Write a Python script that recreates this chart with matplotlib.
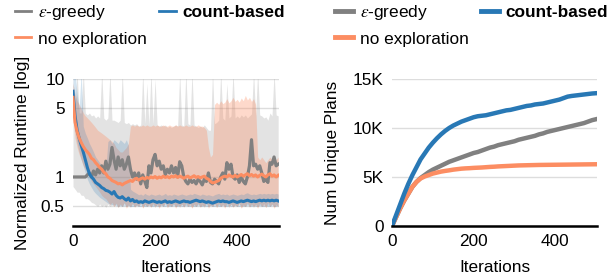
import numpy as np
import matplotlib
matplotlib.use("Agg")
import matplotlib.pyplot as plt
from matplotlib.lines import Line2D

plt.rcParams['font.family'] = ['Liberation Sans', 'DejaVu Sans']
plt.rcParams['mathtext.fontset'] = 'stix'
FS = 12.4

# ---------------- data: left panel (sampled every 5 iterations) ----------------
STEP_L = 5
count_mean = [7.5, 4.2, 3.0, 2.5, 2.1, 1.8, 1.5, 1.25, 1.08, 1.0,
              0.95, 0.88, 0.85, 0.82, 0.78, 0.76, 0.73, 0.72, 0.7, 0.67,
              0.71, 0.65, 0.62, 0.61, 0.63, 0.6, 0.58, 0.61, 0.57, 0.59,
              0.56, 0.57, 0.55, 0.56, 0.55, 0.57, 0.56, 0.55, 0.56, 0.57,
              0.56, 0.55, 0.56, 0.55, 0.56, 0.57, 0.55, 0.56, 0.55, 0.56,
              0.57, 0.56, 0.55, 0.56, 0.57, 0.56, 0.56, 0.55, 0.56, 0.57,
              0.58, 0.57, 0.56, 0.57, 0.56, 0.55, 0.56, 0.55, 0.54, 0.55,
              0.56, 0.57, 0.56, 0.57, 0.56, 0.56, 0.55, 0.56, 0.57, 0.56,
              0.55, 0.56, 0.57, 0.56, 0.57, 0.58, 0.57, 0.56, 0.57, 0.56,
              0.57, 0.58, 0.57, 0.58, 0.57, 0.58, 0.57, 0.58, 0.57, 0.58,
              0.57]
count_lo = [5.0, 3.0, 2.2, 1.8, 1.5, 1.3, 1.1, 0.95, 0.85, 0.78,
            0.72, 0.68, 0.65, 0.62, 0.6, 0.58, 0.56, 0.54, 0.53, 0.52,
            0.52, 0.51, 0.5, 0.51, 0.5, 0.51, 0.5, 0.51, 0.5, 0.5,
            0.5, 0.51, 0.5, 0.5, 0.51, 0.5, 0.5, 0.51, 0.5, 0.5,
            0.51, 0.5, 0.5, 0.51, 0.5, 0.5, 0.51, 0.5, 0.5, 0.51,
            0.5, 0.5, 0.51, 0.5, 0.5, 0.51, 0.5, 0.5, 0.51, 0.5,
            0.5, 0.51, 0.5, 0.5, 0.51, 0.5, 0.5, 0.51, 0.5, 0.5,
            0.51, 0.5, 0.5, 0.51, 0.5, 0.5, 0.51, 0.5, 0.5, 0.51,
            0.5, 0.5, 0.51, 0.5, 0.5, 0.51, 0.5, 0.5, 0.51, 0.5,
            0.5, 0.51, 0.5, 0.5, 0.51, 0.5, 0.5, 0.51, 0.5, 0.5,
            0.51]
count_hi = [10.0, 12.0, 7.0, 5.0, 12.0, 3.3, 2.8, 2.5, 2.2, 2.0,
            1.8, 1.6, 1.5, 1.4, 1.3, 1.25, 1.2, 2.3, 2.4, 2.2,
            2.4, 2.3, 2.2, 2.4, 2.3, 2.2, 2.4, 2.1, 0.75, 0.72,
            0.7, 0.68, 0.66, 0.67, 0.65, 0.68, 0.66, 0.65, 0.67, 0.66,
            0.65, 0.66, 0.67, 0.65, 0.66, 0.68, 0.65, 0.66, 0.65, 0.67,
            0.66, 0.65, 0.66, 0.67, 0.66, 0.65, 0.66, 0.67, 0.66, 0.68,
            0.67, 0.66, 0.65, 0.67, 0.66, 0.65, 0.66, 0.65, 0.64, 0.66,
            0.67, 0.68, 0.66, 0.67, 0.66, 0.67, 0.65, 0.66, 0.67, 0.66,
            0.65, 0.66, 0.67, 0.66, 0.68, 0.69, 0.67, 0.66, 0.67, 0.66,
            0.67, 0.68, 0.67, 0.68, 0.67, 0.68, 0.67, 0.68, 0.67, 0.68,
            0.67]

noexp_mean = [6.5, 3.6, 2.9, 2.5, 2.25, 2.05, 1.9, 1.8, 1.7, 1.55,
              1.5, 1.4, 1.33, 1.25, 1.2, 1.12, 1.08, 1.0, 0.97, 0.92,
              0.9, 0.88, 0.85, 0.86, 0.83, 0.86, 0.88, 0.9, 0.92, 0.9,
              0.95, 0.97, 0.93, 0.96, 0.98, 0.95, 0.99, 0.97, 1.0, 0.98,
              1.01, 0.97, 1.0, 0.98, 1.02, 0.99, 1.01, 0.98, 1.02, 1.0,
              1.03, 0.99, 1.02, 1.0, 0.97, 1.0, 1.02, 0.98, 1.0, 1.03,
              0.99, 1.01, 0.98, 1.0, 1.02, 0.97, 0.95, 0.9, 0.87, 0.88,
              0.9, 0.92, 0.97, 1.0, 1.02, 1.0, 1.05, 1.02, 1.0, 1.04,
              1.0, 1.03, 1.06, 1.02, 1.05, 1.08, 1.03, 1.06, 1.02, 1.05,
              1.0, 1.04, 1.07, 1.03, 1.0, 1.05, 1.08, 1.02, 1.05, 1.0,
              1.04]
noexp_lo = [4.0, 2.5, 2.0, 1.7, 1.5, 1.3, 1.2, 1.1, 1.0, 0.9,
            0.85, 0.8, 0.75, 0.7, 0.65, 0.62, 0.6, 0.56, 0.52, 0.55,
            0.5, 0.54, 0.49, 0.53, 0.5, 0.55, 0.48, 0.52, 0.5, 0.54,
            0.49, 0.52, 0.5, 0.55, 0.48, 0.53, 0.5, 0.52, 0.49, 0.54,
            0.5, 0.52, 0.48, 0.53, 0.5, 0.55, 0.49, 0.52, 0.5, 0.54,
            0.48, 0.52, 0.5, 0.53, 0.49, 0.55, 0.5, 0.52, 0.48, 0.53,
            0.5, 0.54, 0.49, 0.52, 0.5, 0.55, 0.48, 0.52, 0.5, 0.53,
            0.49, 0.54, 0.5, 0.52, 0.48, 0.55, 0.5, 0.53, 0.49, 0.52,
            0.5, 0.54, 0.48, 0.52, 0.5, 0.55, 0.49, 0.53, 0.5, 0.52,
            0.48, 0.54, 0.5, 0.52, 0.49, 0.55, 0.5, 0.53, 0.48, 0.52,
            0.5]
noexp_hi = [9.0, 7.0, 6.0, 5.5, 5.0, 4.5, 4.2, 4.0, 3.8, 3.6,
            3.4, 3.2, 3.0, 2.9, 2.8, 2.7, 2.6, 2.5, 2.4, 2.3,
            2.2, 2.0, 1.9, 1.8, 1.8, 1.9, 2.0, 2.2, 3.3, 3.4,
            3.3, 3.4, 3.3, 3.3, 3.4, 3.3, 3.4, 3.3, 3.3, 3.4,
            3.3, 3.4, 3.3, 3.3, 3.4, 3.3, 3.3, 3.4, 3.3, 3.3,
            3.4, 3.3, 3.4, 3.3, 3.3, 3.4, 3.3, 3.3, 3.4, 3.3,
            3.3, 3.4, 3.3, 3.3, 3.2, 3.0, 2.0, 1.6, 1.7, 5.5,
            5.8, 5.5, 6.0, 5.6, 5.8, 6.3, 5.7, 6.0, 6.5, 5.9,
            6.2, 5.8, 6.4, 6.0, 6.8, 6.1, 6.5, 5.9, 6.3, 5.5,
            1.6, 1.5, 1.6, 1.5, 1.4, 1.5, 1.6, 1.5, 1.6, 1.5,
            1.6]

greedy_mean = [1.0, 1.0, 1.0, 1.0, 1.0, 1.0, 1.0, 1.05, 1.1, 1.0,
               1.15, 1.05, 1.2, 1.1, 1.3, 1.1, 1.45, 1.2, 1.35, 2.0,
               1.5, 1.2, 1.6, 1.3, 1.5, 1.2, 1.35, 1.6, 1.2, 1.0,
               1.1, 0.95, 1.1, 0.85, 1.05, 0.9, 0.78, 1.3, 1.1, 1.5,
               1.7, 1.3, 1.45, 1.2, 1.3, 1.05, 1.2, 1.1, 1.3, 1.1,
               1.25, 1.0, 1.43, 1.3, 1.0, 0.9, 0.85, 0.95, 0.88, 0.92,
               0.85, 0.95, 0.9, 0.83, 0.95, 0.9, 1.1, 0.88, 0.85, 0.95,
               0.9, 0.85, 1.0, 1.1, 0.95, 1.4, 1.2, 1.35, 1.0, 0.95,
               1.05, 0.88, 1.0, 0.9, 0.85, 1.0, 1.3, 2.4, 1.3, 1.35,
               1.2, 1.3, 1.1, 0.9, 0.95, 0.88, 1.4, 1.35, 1.6, 1.3,
               1.35]
greedy_lo = [0.8, 0.75, 0.7, 0.7, 0.65, 0.65, 0.6, 0.6, 0.58, 0.55,
             0.54, 0.52, 0.5, 0.53, 0.5, 0.52, 0.49, 0.53, 0.5, 0.52,
             0.5, 0.53, 0.49, 0.52, 0.5, 0.54, 0.5, 0.52, 0.49, 0.53,
             0.5, 0.52, 0.5, 0.54, 0.49, 0.52, 0.5, 0.53, 0.5, 0.52,
             0.49, 0.53, 0.5, 0.52, 0.5, 0.54, 0.49, 0.52, 0.5, 0.53,
             0.5, 0.52, 0.49, 0.53, 0.5, 0.52, 0.5, 0.54, 0.49, 0.52,
             0.5, 0.53, 0.5, 0.52, 0.49, 0.53, 0.5, 0.52, 0.5, 0.54,
             0.49, 0.52, 0.5, 0.53, 0.5, 0.52, 0.49, 0.53, 0.5, 0.52,
             0.5, 0.54, 0.49, 0.52, 0.5, 0.53, 0.5, 0.52, 0.49, 0.53,
             0.5, 0.52, 0.5, 0.54, 0.49, 0.52, 0.5, 0.53, 0.5, 0.52,
             0.5]
greedy_hi = [10.0, 5.0, 12.0, 4.5, 4.5, 12.0, 4.5, 4.3, 4.5, 4.2,
             4.3, 4.0, 4.2, 4.0, 12.0, 4.0, 3.8, 4.0, 12.0, 3.8,
             3.8, 3.7, 3.6, 3.8, 12.0, 3.6, 3.5, 3.6, 3.4, 3.5,
             3.4, 3.5, 3.3, 3.4, 12.0, 3.5, 9.0, 3.4, 12.0, 3.5,
             10.0, 3.4, 3.3, 3.4, 3.3, 3.4, 3.2, 3.3, 3.2, 3.3,
             3.4, 3.3, 12.0, 3.4, 3.3, 12.0, 3.5, 3.4, 12.0, 3.4,
             3.3, 3.2, 3.3, 3.2, 3.4, 3.2, 3.0, 3.0, 12.0, 3.5,
             3.6, 3.8, 12.0, 4.0, 3.8, 9.0, 4.0, 4.2, 12.0, 4.0,
             4.2, 4.0, 4.3, 4.1, 4.3, 4.0, 4.2, 4.4, 12.0, 4.2,
             12.0, 4.3, 4.2, 4.0, 4.1, 3.8, 4.5, 4.2, 12.0, 4.3,
             4.2]

# ---------------- data: right panel (sampled every 10 iterations, in plans) ----------------
STEP_R = 10
count_plans = [0, 1100, 2200, 3300, 4300, 5200, 6000, 6800, 7400, 8000,
               8500, 8950, 9350, 9700, 10000, 10250, 10450, 10650, 10800, 10950,
               11100, 11200, 11250, 11300, 11400, 11500, 11600, 11700, 11800, 11850,
               11950, 12050, 12150, 12250, 12300, 12400, 12450, 12500, 12600, 12700,
               12800, 12900, 13050, 13200, 13270, 13320, 13370, 13420, 13470, 13520,
               13550]
greedy_plans = [0, 900, 1800, 2600, 3300, 4000, 4500, 4900, 5200, 5500,
                5750, 5950, 6150, 6350, 6550, 6700, 6850, 7000, 7150, 7300,
                7450, 7550, 7700, 7850, 8000, 8100, 8250, 8350, 8450, 8550,
                8650, 8800, 8900, 9000, 9100, 9200, 9350, 9450, 9600, 9700,
                9800, 9900, 10000, 10100, 10200, 10300, 10400, 10500, 10650, 10800,
                10900]
noexp_plans = [0, 900, 1800, 2600, 3300, 4000, 4500, 4850, 5050, 5200,
               5350, 5450, 5550, 5620, 5680, 5750, 5800, 5850, 5880, 5900,
               5930, 5950, 5970, 6000, 6030, 6050, 6080, 6100, 6120, 6140,
               6160, 6180, 6190, 6200, 6210, 6220, 6230, 6235, 6240, 6245,
               6250, 6255, 6260, 6265, 6270, 6275, 6280, 6285, 6290, 6295,
               6300]

left_yticks = [0.5, 1, 5, 10]
left_yticklabels = ['0.5', '1', '5', '10']
right_yticks = [0, 5000, 10000, 15000]
right_yticklabels = ['0', '5K', '10K', '15K']
xticks = [0, 200, 400]

labels = [r'$\epsilon$-greedy', 'no exploration', 'count-based']

C_GRAY = '#808080'
C_BLUE = '#2878b5'
C_ORANGE = '#fc8d62'

W, H = 616, 279
fig = plt.figure(figsize=(W / 100, H / 100), dpi=100)
axL = fig.add_axes([73 / W, 1 - 226 / H, 206 / W, 147 / H])
axR = fig.add_axes([392 / W, 1 - 226 / H, 205 / W, 147 / H])

def xs(series, step):
    return step * np.arange(len(series))

# left panel
axL.fill_between(xs(greedy_lo, STEP_L), greedy_lo, greedy_hi, color=C_GRAY, alpha=0.22, lw=0)
axL.fill_between(xs(noexp_lo, STEP_L), noexp_lo, noexp_hi, color=C_ORANGE, alpha=0.33, lw=0)
axL.fill_between(xs(count_lo, STEP_L), count_lo, count_hi, color=C_BLUE, alpha=0.2, lw=0)
axL.plot(xs(greedy_mean, STEP_L), greedy_mean, color=C_GRAY, lw=2.3)
axL.plot(xs(count_mean, STEP_L), count_mean, color=C_BLUE, lw=2.2)
axL.plot(xs(noexp_mean, STEP_L), noexp_mean, color=C_ORANGE, lw=2.2)
axL.set_yscale('log')
axL.set_ylim(0.316, 10)
axL.set_xlim(0, 502)
axL.set_yticks(left_yticks)
axL.set_yticklabels(left_yticklabels)
axL.yaxis.set_minor_locator(matplotlib.ticker.NullLocator())
axL.set_ylabel('Normalized Runtime [log]', fontsize=FS)

# right panel
axR.plot(xs(greedy_plans, STEP_R), greedy_plans, color=C_GRAY, lw=3.2)
axR.plot(xs(noexp_plans, STEP_R), noexp_plans, color=C_ORANGE, lw=3.2)
axR.plot(xs(count_plans, STEP_R), count_plans, color=C_BLUE, lw=3.2)
axR.set_ylim(0, 15000)
axR.set_xlim(0, 502)
axR.set_yticks(right_yticks)
axR.set_yticklabels(right_yticklabels)
axR.set_ylabel('Num Unique Plans', fontsize=FS)

for ax in (axL, axR):
    ax.set_xticks(xticks)
    ax.set_xlabel('Iterations', fontsize=FS, labelpad=8)
    ax.tick_params(length=0, labelsize=FS, pad=6)
    ax.grid(axis='y', color='#dddddd', lw=1.0)
    ax.set_axisbelow(True)
    for s in ('left', 'right', 'top'):
        ax.spines[s].set_visible(False)
    ax.spines['bottom'].set_color('black')
    ax.spines['bottom'].set_linewidth(1.8)
    ax.spines['bottom'].set_zorder(5)

axL.yaxis.set_label_coords(-0.21, 0.5)
axR.yaxis.set_label_coords(-0.255, 0.5)

# legends
def make_legend(x0, lw, hl):
    hs = [Line2D([], [], color=C_GRAY, lw=lw),
          Line2D([], [], color=C_ORANGE, lw=lw),
          Line2D([], [], color=C_BLUE, lw=lw)]
    leg = fig.legend(hs, labels, ncol=2, loc='upper left',
                     bbox_to_anchor=(x0 / W, 1 - 3 / H), bbox_transform=fig.transFigure,
                     frameon=False, fontsize=FS, handlelength=hl, handletextpad=0.4,
                     columnspacing=0.7, labelspacing=0.55, borderpad=0, borderaxespad=0)
    leg.get_texts()[2].set_fontweight('bold')
    return leg

make_legend(15, 2.0, 0.95)
make_legend(335, 3.5, 1.05)

fig.savefig('out.png', dpi=100)
